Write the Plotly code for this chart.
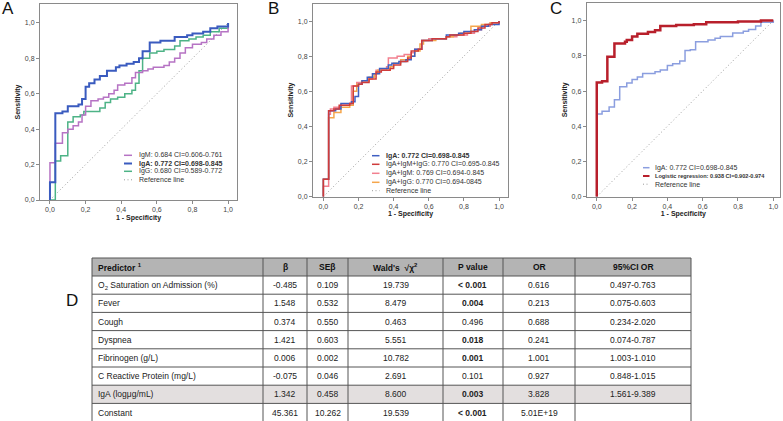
import plotly.graph_objects as go

# ---------------- data ----------------
tick_vals = [0, 0.2, 0.4, 0.6, 0.8, 1.0]
tick_text = ["0,0", "0,2", "0,4", "0,6", "0,8", "1,0"]

# Panel A
iga_x = [0, 0, 0.03, 0.07, 0.1, 0.16, 0.18, 0.2, 0.22, 0.25, 0.28, 0.32, 0.37, 0.39, 0.43, 0.47, 0.5, 0.52, 0.56, 0.62, 0.7, 0.77, 0.8, 0.86, 0.9, 0.94, 1.0]
iga_y = [0, 0.1, 0.49, 0.50, 0.53, 0.54, 0.57, 0.64, 0.66, 0.68, 0.70, 0.73, 0.75, 0.76, 0.77, 0.78, 0.80, 0.84, 0.89, 0.90, 0.92, 0.93, 0.94, 0.95, 0.97, 0.98, 1.0]
igm_x = [0, 0, 0.03, 0.07, 0.1, 0.13, 0.16, 0.18, 0.2, 0.23, 0.27, 0.3, 0.33, 0.36, 0.38, 0.42, 0.46, 0.48, 0.52, 0.55, 0.58, 0.64, 0.67, 0.7, 0.73, 0.76, 0.8, 0.85, 0.88, 0.92, 0.96, 1.0, 1.0]
igm_y = [0, 0.21, 0.32, 0.38, 0.40, 0.42, 0.44, 0.48, 0.53, 0.56, 0.57, 0.58, 0.60, 0.62, 0.65, 0.66, 0.69, 0.72, 0.73, 0.74, 0.75, 0.76, 0.78, 0.80, 0.83, 0.86, 0.88, 0.89, 0.91, 0.93, 0.95, 0.96, 1.0]
igg_x = [0, 0.03, 0.06, 0.1, 0.13, 0.17, 0.19, 0.28, 0.31, 0.34, 0.38, 0.42, 0.46, 0.48, 0.5, 0.52, 0.56, 0.6, 0.64, 0.7, 0.73, 0.78, 0.82, 0.86, 0.9, 0.95, 1.0]
igg_y = [0, 0.22, 0.25, 0.44, 0.47, 0.48, 0.50, 0.52, 0.55, 0.57, 0.58, 0.60, 0.62, 0.66, 0.73, 0.80, 0.83, 0.84, 0.85, 0.87, 0.90, 0.91, 0.92, 0.93, 0.95, 0.97, 1.0]

# Panel B
amg_x = [0, 0, 0.03, 0.06, 0.09, 0.15, 0.17, 0.2, 0.22, 0.26, 0.3, 0.33, 0.38, 0.4, 0.44, 0.48, 0.5, 0.54, 0.56, 0.62, 0.7, 0.72, 0.8, 0.84, 0.88, 0.92, 0.96, 1.0]
amg_y = [0, 0.1, 0.49, 0.50, 0.52, 0.53, 0.63, 0.64, 0.65, 0.67, 0.71, 0.72, 0.73, 0.75, 0.77, 0.79, 0.83, 0.84, 0.89, 0.90, 0.91, 0.92, 0.93, 0.94, 0.96, 0.98, 0.99, 1.0]
am_x = [0, 0, 0.03, 0.04, 0.06, 0.1, 0.15, 0.16, 0.19, 0.22, 0.26, 0.28, 0.3, 0.36, 0.37, 0.42, 0.46, 0.5, 0.52, 0.56, 0.6, 0.7, 0.76, 0.82, 0.86, 0.9, 0.95, 1.0]
am_y = [0, 0.06, 0.47, 0.50, 0.51, 0.52, 0.53, 0.63, 0.65, 0.66, 0.67, 0.70, 0.72, 0.74, 0.79, 0.80, 0.81, 0.82, 0.84, 0.89, 0.90, 0.91, 0.92, 0.93, 0.95, 0.97, 0.99, 1.0]
ag_x = [0, 0, 0.03, 0.06, 0.1, 0.15, 0.17, 0.19, 0.22, 0.26, 0.29, 0.31, 0.38, 0.4, 0.44, 0.48, 0.52, 0.55, 0.57, 0.64, 0.7, 0.74, 0.78, 0.84, 0.9, 0.95, 1.0]
ag_y = [0, 0.1, 0.45, 0.48, 0.51, 0.52, 0.60, 0.64, 0.66, 0.68, 0.70, 0.72, 0.74, 0.76, 0.78, 0.80, 0.83, 0.87, 0.89, 0.90, 0.91, 0.92, 0.93, 0.97, 0.98, 0.99, 1.0]

# Panel C
igac_x = [0, 0, 0.03, 0.07, 0.1, 0.13, 0.17, 0.2, 0.23, 0.26, 0.33, 0.36, 0.4, 0.43, 0.47, 0.5, 0.53, 0.56, 0.63, 0.67, 0.7, 0.77, 0.83, 0.86, 0.9, 0.93, 1.0]
igac_y = [0, 0.47, 0.485, 0.51, 0.55, 0.625, 0.645, 0.665, 0.68, 0.70, 0.71, 0.72, 0.745, 0.755, 0.77, 0.83, 0.835, 0.88, 0.89, 0.90, 0.91, 0.93, 0.94, 0.95, 0.97, 0.99, 1.0]
logr_x = [0, 0, 0.03, 0.06, 0.1, 0.16, 0.17, 0.2, 0.23, 0.29, 0.33, 0.36, 0.45, 0.55, 0.62, 0.8, 0.93, 1.0]
logr_y = [0, 0.648, 0.655, 0.795, 0.87, 0.88, 0.89, 0.91, 0.925, 0.935, 0.945, 0.97, 0.975, 0.98, 0.99, 0.995, 1.0, 1.0]

ref_x = [0, 1]
ref_y = [0, 1]

# Table D
tbl_header = ["Predictor <sup>1</sup>", "β", "SEβ", "Wald's  √χ<sup>2</sup>", "P value", "OR", "95%CI OR"]
predictors = ["O<sub>2</sub> Saturation on Admission (%)", "Fever", "Cough", "Dyspnea", "Fibrinogen (g/L)",
              "C Reactive Protein (mg/L)", "IgA (logμg/mL)", "Constant"]
beta = ["-0.485", "1.548", "0.374", "1.421", "0.006", "-0.075", "1.342", "45.361"]
se_beta = ["0.109", "0.532", "0.550", "0.603", "0.002", "0.046", "0.458", "10.262"]
wald = ["19.739", "8.479", "0.463", "5.551", "10.782", "2.691", "8.600", "19.539"]
p_value = ["< 0.001", "0.004", "0.496", "0.018", "0.001", "0.101", "0.003", "< 0.001"]
odds_ratio = ["0.616", "0.213", "0.688", "0.241", "1.001", "0.927", "3.828", "5.01E+19"]
ci_or = ["0.497-0.763", "0.075-0.603", "0.234-2.020", "0.074-0.787", "1.003-1.010", "0.848-1.015", "1.561-9.389", ""]

# ---------------- helpers ----------------
W, H = 783, 421
FONT = "Arial, Liberation Sans, sans-serif"


def px(x):
    return x / W


def py(y):
    return 1 - y / H


def pval_sig(p):
    return p.startswith("<") or float(p) < 0.05


fig = go.Figure()

DOT = dict(color="#9a9a9a", width=1, dash="1px,2.5px")

# Panel A traces
fig.add_trace(go.Scatter(x=ref_x, y=ref_y, mode="lines", line=DOT, xaxis="x", yaxis="y", showlegend=False))
fig.add_trace(go.Scatter(x=igg_x, y=igg_y, mode="lines", line=dict(color="#4db386", width=1.5, shape="hv"), xaxis="x", yaxis="y", showlegend=False))
fig.add_trace(go.Scatter(x=igm_x, y=igm_y, mode="lines", line=dict(color="#b673c4", width=1.5, shape="hv"), xaxis="x", yaxis="y", showlegend=False))
fig.add_trace(go.Scatter(x=iga_x, y=iga_y, mode="lines", line=dict(color="#3a5bbf", width=2, shape="hv"), xaxis="x", yaxis="y", showlegend=False))

# Panel B traces
fig.add_trace(go.Scatter(x=ref_x, y=ref_y, mode="lines", line=DOT, xaxis="x2", yaxis="y2", showlegend=False))
fig.add_trace(go.Scatter(x=am_x, y=am_y, mode="lines", line=dict(color="#f2808f", width=1.5, shape="hv"), xaxis="x2", yaxis="y2", showlegend=False))
fig.add_trace(go.Scatter(x=ag_x, y=ag_y, mode="lines", line=dict(color="#f5a64c", width=1.5, shape="hv"), xaxis="x2", yaxis="y2", showlegend=False))
fig.add_trace(go.Scatter(x=iga_x, y=iga_y, mode="lines", line=dict(color="#3f5fc2", width=1.5, shape="hv"), xaxis="x2", yaxis="y2", showlegend=False))
fig.add_trace(go.Scatter(x=amg_x, y=amg_y, mode="lines", line=dict(color="#cf3b3b", width=1.5, shape="hv"), xaxis="x2", yaxis="y2", showlegend=False))

# Panel C traces
fig.add_trace(go.Scatter(x=ref_x, y=ref_y, mode="lines", line=DOT, xaxis="x3", yaxis="y3", showlegend=False))
fig.add_trace(go.Scatter(x=igac_x, y=igac_y, mode="lines", line=dict(color="#8b9edf", width=1.5, shape="hv"), xaxis="x3", yaxis="y3", showlegend=False))
fig.add_trace(go.Scatter(x=logr_x, y=logr_y, mode="lines", line=dict(color="#b81f2b", width=2.5, shape="hv"), xaxis="x3", yaxis="y3", showlegend=False))


# ---------------- axes ----------------
def xax(dom, rng, anchor):
    return dict(domain=dom, range=rng, anchor=anchor, automargin=False, showline=True, mirror=True,
                linecolor="#8a8a8a", linewidth=1,
                showgrid=False, zeroline=False, ticks="outside", ticklen=3, tickcolor="#8a8a8a",
                tickvals=tick_vals, ticktext=tick_text, tickfont=dict(family=FONT, size=7, color="#444444"),
                title=dict(text="<b>1 - Specificity</b>", font=dict(family=FONT, size=7, color="#222222"), standoff=2))


def yax(dom, rng, anchor):
    return dict(domain=dom, range=rng, anchor=anchor, automargin=False, showline=True, mirror=True,
                linecolor="#8a8a8a", linewidth=1,
                showgrid=False, zeroline=False, ticks="outside", ticklen=3, tickcolor="#8a8a8a",
                tickvals=tick_vals, ticktext=tick_text, tickfont=dict(family=FONT, size=7, color="#444444"),
                title=dict(text="<b>Sensitivity</b>", font=dict(family=FONT, size=7, color="#222222"), standoff=3))


fig.update_layout(
    width=W, height=H, margin=dict(l=0, r=0, t=0, b=0, autoexpand=False),
    paper_bgcolor="white", plot_bgcolor="white",
    font=dict(family=FONT),
    xaxis=xax([px(40), px(237)], [-0.056, 1.05], "y"),
    yaxis=yax([py(200), py(4)], [0, 1.107], "x"),
    xaxis2=xax([px(313), px(508)], [-0.059, 1.051], "y2"),
    yaxis2=yax([py(196.7), py(3.5)], [0, 1.10], "x2"),
    xaxis3=xax([px(586.7), px(780)], [-0.057, 1.038], "y3"),
    yaxis3=yax([py(196.7), py(3)], [0, 1.10], "x3"),
)

shapes = []
annotations = []

# panel letters
for letter, (lx, ly) in {"A": (8, 9), "B": (273, 9), "C": (556, 9), "D": (72, 300)}.items():
    annotations.append(dict(text=letter, x=px(lx), y=py(ly), xref="paper", yref="paper", showarrow=False,
                            font=dict(family=FONT, size=17, color="#111111"), xanchor="center", yanchor="middle"))


def legend(items, lx0, lx1, tx):
    for label, ycen, line, fsize in items:
        shapes.append(dict(type="line", xref="paper", yref="paper", x0=px(lx0), x1=px(lx1), y0=py(ycen), y1=py(ycen),
                           line=line))
        annotations.append(dict(text=label, x=px(tx), y=py(ycen), xref="paper", yref="paper", showarrow=False,
                                xanchor="left", yanchor="middle", font=dict(family=FONT, size=fsize, color="#333333")))


legend([
    ("IgM: 0.684 CI=0.606-0.761", 155.3, dict(color="#b673c4", width=1.5), 7),
    ("<b>IgA: 0.772 CI=0.698-0.845</b>", 163.5, dict(color="#3a5bbf", width=2), 7),
    ("IgG: 0.680 CI=0.589-0.772", 171.3, dict(color="#4db386", width=1.5), 7),
    ("Reference line", 179.8, DOT, 7),
], 124, 132, 136.5)

legend([
    ("<b>IgA: 0.772 CI=0.698-0.845</b>", 155.7, dict(color="#3f5fc2", width=1.5), 7),
    ("IgA+IgM+IgG: 0.770 CI=0.695-0.845", 164.3, dict(color="#cf3b3b", width=1.5), 7),
    ("IgA+IgM: 0.769 CI=0.694-0.845", 173.3, dict(color="#f2808f", width=1.5), 7),
    ("IgA+IgG: 0.770 CI=0.694-0845", 182.3, dict(color="#f5a64c", width=1.5), 7),
    ("Reference line", 190.7, DOT, 7),
], 372, 379.5, 384)

legend([
    ("IgA: 0.772 CI=0.698-0.845", 167.7, dict(color="#8b9edf", width=1.5), 7),
    ("<b>Logistic regression: 0.938 CI=0.902-0.974</b>", 176, dict(color="#b81f2b", width=2), 5.6),
    ("Reference line", 184.2, DOT, 7),
], 643, 649.5, 652.7)

# ---------------- table D (drawn with shapes + text) ----------------
col_w = [171, 44, 41, 95, 60, 72, 116]
T_LEFT, T_TOP, HEAD_H, ROW_H = 92, 258, 18, 18.2
col_x = [T_LEFT]
for w in col_w:
    col_x.append(col_x[-1] + w)
n = len(predictors)
row_y = [T_TOP, T_TOP + HEAD_H] + [T_TOP + HEAD_H + ROW_H * (i + 1) for i in range(n)]
T_RIGHT = col_x[-1]
LINE = dict(color="#555555", width=1)

# fills
shapes.append(dict(type="rect", xref="paper", yref="paper", x0=px(T_LEFT), x1=px(T_RIGHT), y0=py(row_y[0]),
                   y1=py(row_y[1]), fillcolor="#b4b4b4", line=dict(width=0), layer="below"))
for i, name in enumerate(predictors):
    if name.startswith("IgA"):
        shapes.append(dict(type="rect", xref="paper", yref="paper", x0=px(T_LEFT), x1=px(T_RIGHT),
                           y0=py(row_y[i + 1]), y1=py(row_y[i + 2]), fillcolor="#e3dfdf", line=dict(width=0),
                           layer="below"))
# grid lines
for yv in row_y:
    shapes.append(dict(type="line", xref="paper", yref="paper", x0=px(T_LEFT), x1=px(T_RIGHT), y0=py(yv), y1=py(yv),
                       line=LINE))
for xv in col_x:
    shapes.append(dict(type="line", xref="paper", yref="paper", x0=px(xv), x1=px(xv), y0=py(row_y[0]),
                       y1=py(row_y[-1]), line=LINE))

columns = [predictors, beta, se_beta, wald, ["<b>%s</b>" % p if pval_sig(p) else p for p in p_value],
           odds_ratio, ci_or]


def cell_text(txt, c, yc, bold=False, color="#222222"):
    if not txt:
        return
    if c == 0:
        xpos, anchor = px(col_x[0] + 4), "left"
    else:
        xpos, anchor = px((col_x[c] + col_x[c + 1]) / 2), "center"
    annotations.append(dict(text=("<b>%s</b>" % txt) if bold else txt, x=xpos, y=py(yc), xref="paper", yref="paper",
                            showarrow=False, xanchor=anchor, yanchor="middle",
                            font=dict(family=FONT, size=8.5, color=color)))


for c, h in enumerate(tbl_header):
    cell_text(h, c, (row_y[0] + row_y[1]) / 2, bold=True, color="#111111")
for c, col in enumerate(columns):
    for r, v in enumerate(col):
        cell_text(v, c, (row_y[r + 1] + row_y[r + 2]) / 2)

fig.update_layout(shapes=shapes, annotations=annotations)

fig.write_html("out.html", config={"displayModeBar": False},
               post_script="document.body.style.margin='0px';")
